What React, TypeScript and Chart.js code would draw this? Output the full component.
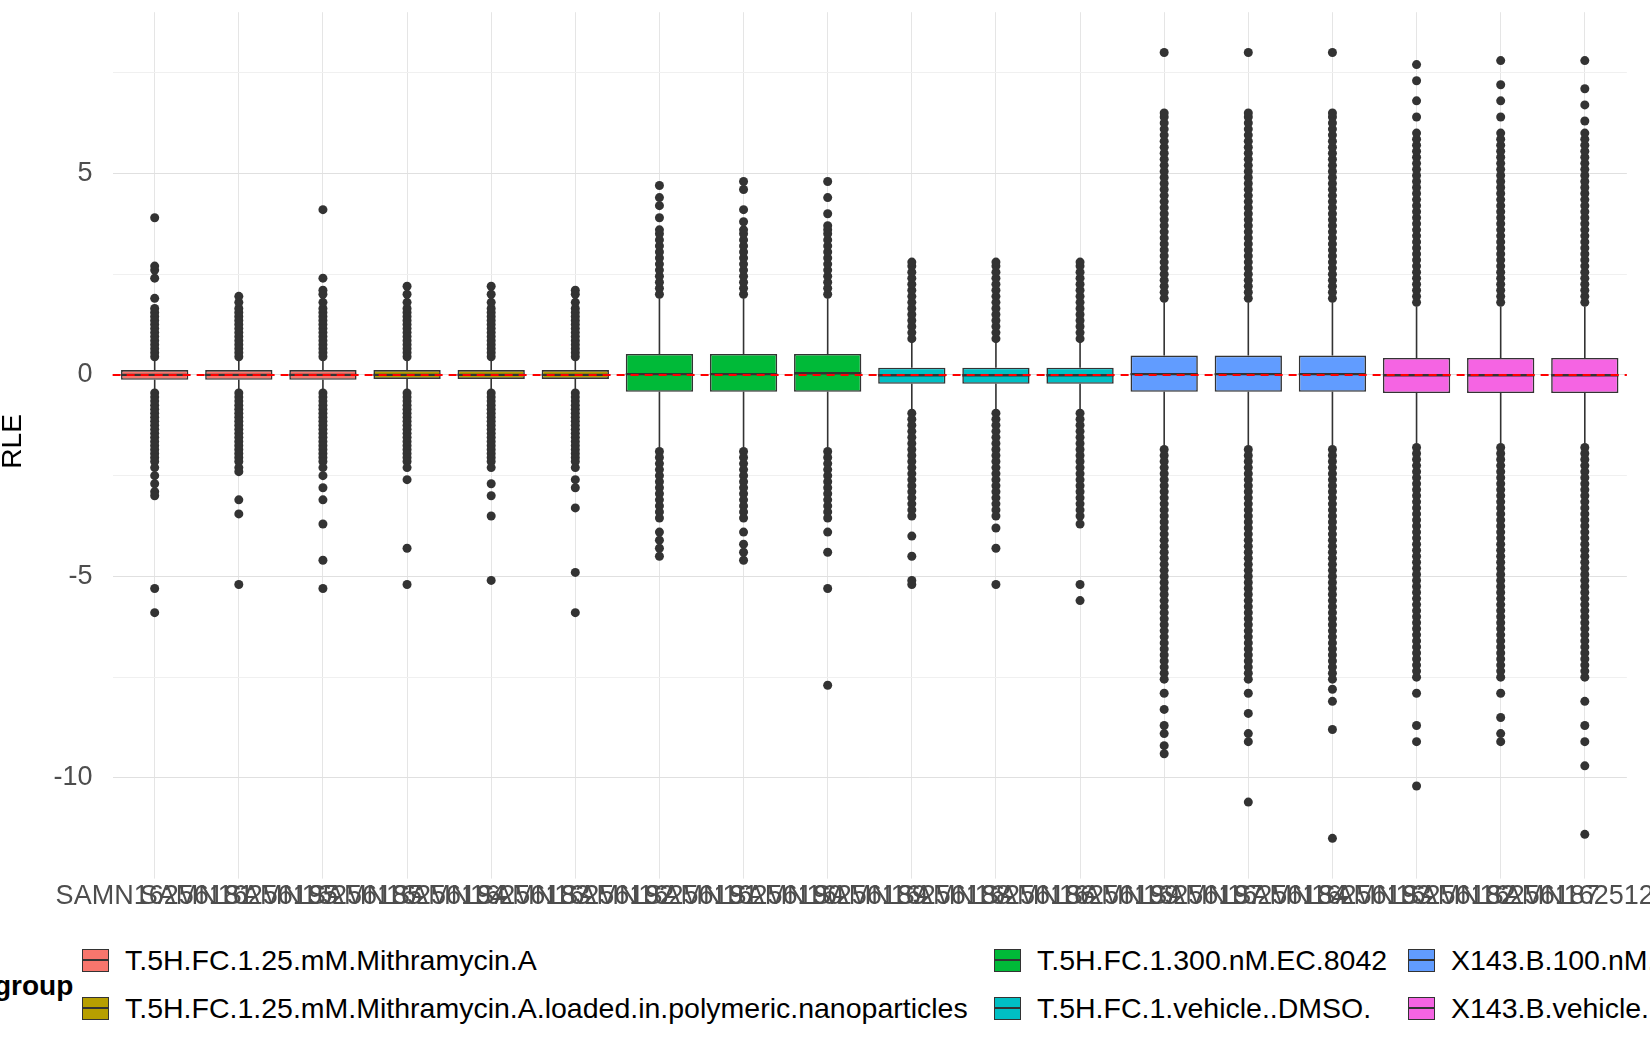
import { useEffect, useRef } from "react"
import { Chart, registerables } from "chart.js"

Chart.register(...registerables)

const samples = [
  "SAMN16256181", "SAMN16256195", "SAMN16256185", "SAMN16256194", "SAMN16256183", "SAMN16256192",
  "SAMN16256191", "SAMN16256190", "SAMN16256189", "SAMN16256188", "SAMN16256186", "SAMN16256199",
  "SAMN16256197", "SAMN16256184", "SAMN16256193", "SAMN16256182", "SAMN16256187", "SAMN16251236",
]
const groupOf = [0, 0, 0, 1, 1, 1, 2, 2, 2, 3, 3, 3, 4, 4, 4, 5, 5, 5]
const groupNames = [
  "T.5H.FC.1.25.mM.Mithramycin.A",
  "T.5H.FC.1.25.mM.Mithramycin.A.loaded.in.polymeric.nanoparticles",
  "T.5H.FC.1.300.nM.EC.8042",
  "T.5H.FC.1.vehicle..DMSO.",
  "X143.B.100.nM.EC.8042",
  "X143.B.vehicle..DMSO.",
]
const groupColors = ["#F8766D", "#B79F00", "#00BA38", "#00BFC4", "#619CFF", "#F564E3"]

const q1 = [-0.12, -0.12, -0.12, -0.1, -0.1, -0.1, -0.42, -0.42, -0.42, -0.22, -0.22, -0.22, -0.42, -0.42, -0.42, -0.45, -0.45, -0.45]
const q3 = [0.12, 0.12, 0.12, 0.12, 0.12, 0.12, 0.52, 0.52, 0.52, 0.18, 0.18, 0.18, 0.48, 0.48, 0.48, 0.42, 0.42, 0.42]
const medians = [0, 0, 0, 0, 0, 0, 0.02, 0.02, 0.04, -0.01, -0.01, -0.01, 0.02, 0.02, 0.02, -0.01, -0.01, -0.01]
const whiskerLow = [-0.4, -0.4, -0.4, -0.4, -0.4, -0.4, -1.8, -1.8, -1.8, -0.85, -0.85, -0.85, -1.75, -1.75, -1.75, -1.7, -1.7, -1.7]
const whiskerHigh = [0.4, 0.4, 0.4, 0.4, 0.4, 0.4, 1.9, 1.9, 1.9, 0.8, 0.8, 0.8, 1.8, 1.8, 1.8, 1.7, 1.7, 1.7]

// dense outlier bands per group (upper, lower)
const denseUp = [
  [0.45, 0.55, 0.65, 0.75, 0.85, 0.95, 1.05, 1.15, 1.25, 1.35, 1.45, 1.55, 1.65],
  [0.45, 0.55, 0.65, 0.75, 0.85, 0.95, 1.05, 1.15, 1.25, 1.35, 1.45, 1.55, 1.65],
  [2.0, 2.15, 2.3, 2.45, 2.6, 2.75, 2.9, 3.05, 3.2, 3.35, 3.5, 3.6],
  [0.9, 1.05, 1.2, 1.35, 1.5, 1.65, 1.8, 1.95, 2.1, 2.25, 2.4, 2.55, 2.7, 2.8],
  [1.9, 2.05, 2.2, 2.35, 2.5, 2.65, 2.8, 2.95, 3.1, 3.25, 3.4, 3.55, 3.7, 3.85, 4.0, 4.15, 4.3, 4.45, 4.6, 4.75, 4.9, 5.05, 5.2, 5.35, 5.5, 5.65, 5.8, 5.95, 6.1, 6.25, 6.4, 6.5],
  [1.8, 1.95, 2.1, 2.25, 2.4, 2.55, 2.7, 2.85, 3.0, 3.15, 3.3, 3.45, 3.6, 3.75, 3.9, 4.05, 4.2, 4.35, 4.5, 4.65, 4.8, 4.95, 5.1, 5.25, 5.4, 5.55, 5.7, 5.85, 6.0],
]
const denseDown = [
  [-0.45, -0.55, -0.65, -0.75, -0.85, -0.95, -1.05, -1.15, -1.25, -1.35, -1.45, -1.55, -1.65, -1.75, -1.85, -1.95, -2.05, -2.15, -2.3],
  [-0.45, -0.55, -0.65, -0.75, -0.85, -0.95, -1.05, -1.15, -1.25, -1.35, -1.45, -1.55, -1.65, -1.75, -1.85, -1.95, -2.05, -2.15, -2.3],
  [-1.9, -2.05, -2.2, -2.35, -2.5, -2.65, -2.8, -2.95, -3.1, -3.25, -3.4, -3.55],
  [-0.95, -1.1, -1.25, -1.4, -1.55, -1.7, -1.85, -2.0, -2.15, -2.3, -2.45, -2.6, -2.75, -2.9, -3.05, -3.2, -3.35, -3.5],
  [-1.85, -2.0, -2.15, -2.3, -2.45, -2.6, -2.75, -2.9, -3.05, -3.2, -3.35, -3.5, -3.65, -3.8, -3.95, -4.1, -4.25, -4.4, -4.55, -4.7, -4.85, -5.0, -5.15, -5.3, -5.45, -5.6, -5.75, -5.9, -6.05, -6.2, -6.35, -6.5, -6.65, -6.8, -6.95, -7.1, -7.25, -7.4, -7.55],
  [-1.8, -1.95, -2.1, -2.25, -2.4, -2.55, -2.7, -2.85, -3.0, -3.15, -3.3, -3.45, -3.6, -3.75, -3.9, -4.05, -4.2, -4.35, -4.5, -4.65, -4.8, -4.95, -5.1, -5.25, -5.4, -5.55, -5.7, -5.85, -6.0, -6.15, -6.3, -6.45, -6.6, -6.75, -6.9, -7.05, -7.2, -7.35, -7.5],
]
// sparse extreme outliers per sample
const extraOutliers = [
  [1.9, 2.4, 2.6, 2.7, 3.9, -2.5, -2.7, -2.9, -3.0, -5.3, -5.9],
  [1.8, 1.95, -2.4, -3.1, -3.45, -5.2],
  [1.8, 2.0, 2.1, 2.4, 4.1, -2.5, -2.8, -3.1, -3.7, -4.6, -5.3],
  [1.8, 2.0, 2.2, -2.6, -4.3, -5.2],
  [1.8, 2.0, 2.2, -2.7, -3.0, -3.5, -5.1],
  [1.8, 2.0, 2.1, -2.6, -2.8, -3.3, -4.9, -5.9],
  [3.9, 4.2, 4.4, 4.7, -3.9, -4.1, -4.3, -4.5],
  [3.8, 4.1, 4.6, 4.8, -3.9, -4.2, -4.4, -4.6],
  [3.7, 4.0, 4.4, 4.8, -3.9, -4.4, -5.3, -7.7],
  [-4.0, -4.5, -5.1, -5.2],
  [-3.8, -4.3, -5.2],
  [-3.7, -5.2, -5.6],
  [8.0, -7.9, -8.3, -8.7, -8.9, -9.2, -9.4],
  [8.0, -7.9, -8.4, -8.9, -9.1, -10.6],
  [8.0, -7.8, -8.1, -8.8, -11.5],
  [6.4, 6.8, 7.3, 7.7, -7.9, -8.7, -9.1, -10.2],
  [6.4, 6.8, 7.2, 7.8, -7.9, -8.5, -8.9, -9.1],
  [6.3, 6.7, 7.1, 7.8, -8.1, -8.7, -9.1, -9.7, -11.4],
]

const boxPlugin = {
  id: "boxParts",
  afterDatasetsDraw(chart: any) {
    const { ctx, scales } = chart
    const x = scales.x
    const y = scales.y
    const meta = chart.getDatasetMeta(0)
    ctx.save()
    ctx.strokeStyle = "#333333"
    ctx.lineWidth = 1.6
    meta.data.forEach((bar: any, i: number) => {
      const cx = bar.x
      const hw = bar.width / 2
      ctx.beginPath()
      ctx.moveTo(cx, y.getPixelForValue(q3[i]))
      ctx.lineTo(cx, y.getPixelForValue(whiskerHigh[i]))
      ctx.moveTo(cx, y.getPixelForValue(q1[i]))
      ctx.lineTo(cx, y.getPixelForValue(whiskerLow[i]))
      ctx.stroke()
      ctx.lineWidth = 2.4
      ctx.beginPath()
      ctx.moveTo(cx - hw, y.getPixelForValue(medians[i]))
      ctx.lineTo(cx + hw, y.getPixelForValue(medians[i]))
      ctx.stroke()
      ctx.lineWidth = 1.6
    })
    ctx.strokeStyle = "#FF0000"
    ctx.lineWidth = 2
    ctx.setLineDash([8, 6])
    const y0 = y.getPixelForValue(0)
    ctx.beginPath()
    ctx.moveTo(x.left, y0)
    ctx.lineTo(x.right, y0)
    ctx.stroke()
    ctx.restore()
  },
}

export default function App() {
  const ref = useRef<HTMLCanvasElement>(null)

  useEffect(() => {
    document.body.style.margin = "0"
    if (!ref.current) return
    const points: { x: string; y: number }[] = []
    samples.forEach((s, i) => {
      const g = groupOf[i]
      ;[...denseUp[g], ...denseDown[g], ...extraOutliers[i]].forEach((v) => points.push({ x: s, y: v }))
    })
    const chart = new Chart(ref.current, {
      type: "bar",
      data: {
        labels: samples,
        datasets: [
          {
            type: "bar",
            data: samples.map((_, i) => [q1[i], q3[i]]) as any,
            backgroundColor: groupOf.map((g) => groupColors[g]),
            borderColor: "#333333",
            borderWidth: 1.6,
            borderSkipped: false,
            barPercentage: 0.8,
            categoryPercentage: 1,
          },
          {
            type: "line",
            data: points as any,
            showLine: false,
            pointRadius: 4.5,
            pointBackgroundColor: "#333333",
            pointBorderWidth: 0,
          },
        ],
      },
      options: {
        animation: false,
        responsive: false,
        maintainAspectRatio: false,
        layout: { padding: 0 },
        plugins: { legend: { display: false }, tooltip: { enabled: false } },
        scales: {
          x: {
            grid: { color: "#e5e5e5", offset: false, drawTicks: true, tickLength: 8, tickColor: "#e5e5e5" },
            border: { display: false },
            ticks: { color: "#4d4d4d", font: { size: 27, family: "Liberation Sans" }, maxRotation: 0, autoSkip: false, padding: 2 },
          },
          y: {
            min: -12.3,
            max: 9,
            afterBuildTicks: (s: any) => {
              s.ticks = [-10, -7.5, -5, -2.5, 0, 2.5, 5, 7.5].map((v) => ({ value: v }))
            },
            grid: { color: (c: any) => (c.tick && c.tick.value % 5 === 0 ? "#e0e0e0" : "#f0f0f0"), drawTicks: false },
            border: { display: false },
            ticks: {
              color: "#4d4d4d",
              font: { size: 27, family: "Liberation Sans" },
              padding: 20,
              callback: (v: any) => (Number(v) % 5 === 0 ? String(v) : ""),
            },
            title: { display: true, text: "RLE", color: "#000", font: { size: 28, family: "Liberation Sans" }, padding: 4 },
          },
        },
      },
      plugins: [boxPlugin],
    })
    return () => chart.destroy()
  }, [])

  const legendPos = [
    [82, 962], [82, 1010], [994, 962], [994, 1010], [1408, 962], [1408, 1010],
  ]

  return (
    <div style={{ position: "relative", width: 1650, height: 1050, overflow: "hidden", fontFamily: "Liberation Sans, Arial, sans-serif", background: "#fff" }}>
      <canvas ref={ref} width={1694} height={939} style={{ position: "absolute", left: -8, top: -24 }} />
      <div style={{ position: "absolute", left: -6, top: 970, fontSize: 28, fontWeight: "bold" }}>group</div>
      {groupNames.map((name, g) => (
        <div key={g} style={{ position: "absolute", left: legendPos[g][0], top: legendPos[g][1] - 18, display: "flex", alignItems: "center", whiteSpace: "nowrap", fontSize: 28.5, color: "#000" }}>
          <div style={{ width: 27, height: 23, background: groupColors[g], border: "1.5px solid #333", position: "relative", marginRight: 16, boxSizing: "border-box" }}>
            <div style={{ position: "absolute", left: 0, right: 0, top: 9, height: 2, background: "#333" }} />
          </div>
          <span>{name}</span>
        </div>
      ))}
    </div>
  )
}
